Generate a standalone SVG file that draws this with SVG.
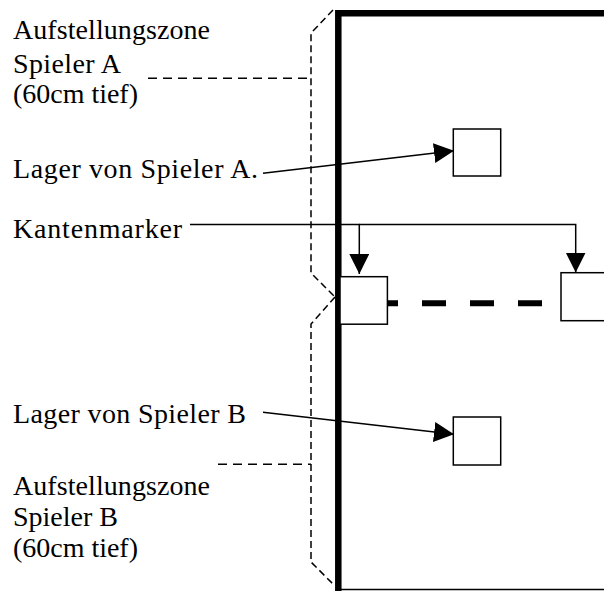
<svg xmlns="http://www.w3.org/2000/svg" width="604" height="591" viewBox="0 0 604 591">
<style>
text{font-family:"Liberation Serif","Times New Roman",serif;font-size:28px;fill:#000}
.thin{stroke:#000;stroke-width:1.5;fill:none}
.dv{stroke:#000;stroke-width:1.5;fill:none;stroke-dasharray:7 4}
.dh{stroke:#000;stroke-width:1.5;fill:none;stroke-dasharray:9 6}
.box{fill:#fff;stroke:#000;stroke-width:1.5}
</style>
<defs>
<marker id="ah" markerUnits="userSpaceOnUse" markerWidth="20" markerHeight="20" viewBox="0 0 20 20" refX="20" refY="10" orient="auto"><path d="M0,0 L20,10 L0,20 z" fill="#000"/></marker>
</defs>
<rect width="604" height="591" fill="#fff"/>
<g id="table">
<path d="M338.3,591 V13.3 H604" fill="none" stroke="#000" stroke-width="6.5"/>
<line x1="335" y1="589.5" x2="604" y2="589.5" stroke="#000" stroke-width="1.5"/>
</g>
<g id="zone-a">
<path class="dv" d="M333,10 L311,33 V273 L335,297"/>
<line class="dh" x1="148" y1="78.3" x2="311" y2="78.3"/>
<text x="13" y="39" textLength="197" lengthAdjust="spacing">Aufstellungszone</text>
<text x="13" y="73" textLength="108" lengthAdjust="spacing">Spieler A</text>
<text x="13" y="103" textLength="125" lengthAdjust="spacing">(60cm tief)</text>
</g>
<g id="zone-b">
<path class="dv" d="M335,297 L311,324 V562 L335,586"/>
<line class="dh" x1="218" y1="464.3" x2="311" y2="464.3"/>
<text x="13" y="495" textLength="197" lengthAdjust="spacing">Aufstellungszone</text>
<text x="13" y="526" textLength="105" lengthAdjust="spacing">Spieler B</text>
<text x="13" y="557" textLength="125" lengthAdjust="spacing">(60cm tief)</text>
</g>
<g id="edge-line">
<line x1="374" y1="303.3" x2="542" y2="303.3" stroke="#000" stroke-width="6" stroke-dasharray="24 24"/>
</g>
<g id="lager-a"><rect class="box" x="453.3" y="129" width="47.4" height="47"/></g>
<g id="lager-b"><rect class="box" x="453.3" y="417" width="47.4" height="48"/></g>
<g id="marker-left"><rect class="box" x="340" y="276.7" width="47.4" height="47.5"/></g>
<g id="marker-right"><rect class="box" x="561" y="272.7" width="48" height="48"/></g>
<g id="label-lager-a"><text x="13" y="178" textLength="245" lengthAdjust="spacing">Lager von Spieler A.</text></g>
<g id="label-kanten"><text x="13" y="238" textLength="169" lengthAdjust="spacing">Kantenmarker</text></g>
<g id="label-lager-b"><text x="13" y="423" textLength="233" lengthAdjust="spacing">Lager von Spieler B</text></g>
<g id="connectors">
<line class="thin" x1="263" y1="173.3" x2="454" y2="150.7" marker-end="url(#ah)"/>
<line class="thin" x1="263" y1="412.3" x2="454" y2="434.3" marker-end="url(#ah)"/>
<polyline class="thin" points="190,224.5 359.3,224.5 359.3,274" marker-end="url(#ah)"/>
<polyline class="thin" points="359.3,224.5 575.7,224.5 575.7,272.5" marker-end="url(#ah)"/>
</g>
</svg>
